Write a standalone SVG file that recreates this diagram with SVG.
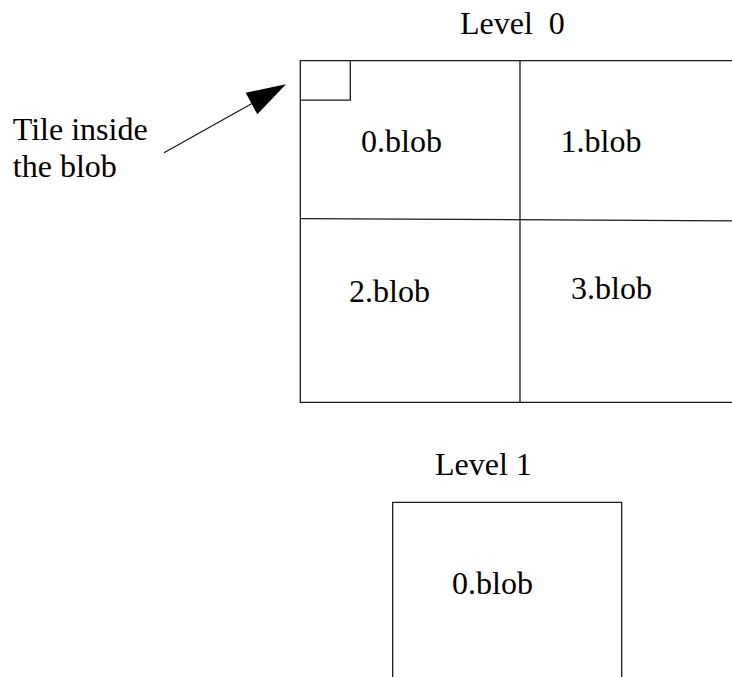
<svg xmlns="http://www.w3.org/2000/svg" width="732" height="677" viewBox="0 0 732 677">
  <style>
    .ln { fill: none; stroke: #1a1a1a; stroke-width: 1.3; }
    .lbl { font-family: "Liberation Serif", "Times New Roman", serif; font-size: 32px; fill: #000; }
  </style>
  <rect x="0" y="0" width="732" height="677" fill="#fff"/>

  <!-- Level 0: 2x2 grid of blobs -->
  <g id="level0">
    <text class="lbl" x="460" y="34" xml:space="preserve">Level  0</text>
    <g id="blob0-0">
      <polyline class="ln" points="732,60.7 300.3,60.7 300.3,402.3 732,402.3"/>
      <line class="ln" x1="520" y1="60.7" x2="520" y2="402.3"/>
      <line class="ln" x1="300.3" y1="218.7" x2="732" y2="220.8"/>
      <text class="lbl" x="361" y="152">0.blob</text>
    </g>
    <g id="blob0-1">
      <text class="lbl" x="560.5" y="151.7">1.blob</text>
    </g>
    <g id="blob0-2">
      <text class="lbl" x="349" y="301.7">2.blob</text>
    </g>
    <g id="blob0-3">
      <text class="lbl" x="571" y="299">3.blob</text>
    </g>
    <g id="tile">
      <polyline class="ln" points="350.3,60.7 350.3,100.2 300.3,100.2"/>
    </g>
  </g>

  <!-- Level 1: single blob -->
  <g id="level1">
    <text class="lbl" x="435" y="475">Level 1</text>
    <g id="blob1-0">
      <polyline class="ln" points="392.7,677 392.7,502.3 621.7,502.3 621.7,677"/>
      <text class="lbl" x="452" y="594">0.blob</text>
    </g>
  </g>

  <!-- Annotation -->
  <g id="note">
    <text class="lbl" x="12.8" y="140">Tile inside</text>
    <text class="lbl" x="12.8" y="176.7">the blob</text>
  </g>

  <g id="connectors">
    <line class="ln" x1="164" y1="152.7" x2="252" y2="103.5"/>
    <polygon points="286,84.3 245.7,92.7 257.3,114.3" fill="#000"/>
  </g>
</svg>
